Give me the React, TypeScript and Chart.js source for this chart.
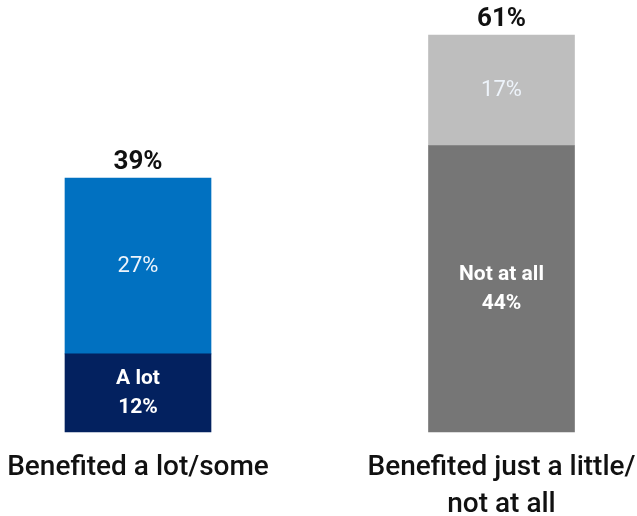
import React, { useEffect, useRef } from 'react';
import { Chart, registerables } from 'chart.js';

Chart.register(...registerables);

const categories: string[][] = [['Benefited a lot/some'], ['Benefited just a little/', 'not at all']];
const bottomNames = ['A lot', 'Not at all'];
const bottomValues = [12, 44];
const topValues = [27, 17];
const bottomColors = ['#03215f', '#767676'];
const topColors = ['#0171c1', '#bebebe'];

const FONT = 'Roboto';

const labelPlugin = {
  id: 'segmentLabels',
  afterDatasetsDraw(chart: any) {
    const ctx = chart.ctx;
    const m0 = chart.getDatasetMeta(0);
    const m1 = chart.getDatasetMeta(1);
    ctx.save();
    ctx.textAlign = 'center';
    ctx.textBaseline = 'middle';
    m0.data.forEach((bar: any, i: number) => {
      const { x, y, base } = bar.getProps(['x', 'y', 'base'], true);
      const cy = (y + base) / 2;
      ctx.fillStyle = '#ffffff';
      ctx.font = `bold 21px ${FONT}`;
      ctx.fillText(bottomNames[i], x, cy - 14);
      ctx.fillText(bottomValues[i] + '%', x, cy + 14.5);
    });
    m1.data.forEach((bar: any, i: number) => {
      const { x, y, base } = bar.getProps(['x', 'y', 'base'], true);
      const cy = (y + base) / 2;
      ctx.fillStyle = '#eef4fb';
      ctx.font = `400 22px ${FONT}`;
      ctx.fillText(topValues[i] + '%', x, cy);
      ctx.fillStyle = '#111111';
      ctx.font = `bold 26px ${FONT}`;
      ctx.fillText(bottomValues[i] + topValues[i] + '%', x, y - 16);
    });
    ctx.restore();
  },
};

export default function App() {
  const ref = useRef<HTMLCanvasElement | null>(null);
  useEffect(() => {
    if (!ref.current) return;
    const chart = new Chart(ref.current, {
      type: 'bar',
      data: {
        labels: categories as any,
        datasets: [
          { label: 'A lot / Not at all', data: bottomValues, backgroundColor: bottomColors, barThickness: 146, clip: false as any },
          { label: 'Some / Just a little', data: topValues, backgroundColor: topColors, barThickness: 146, clip: false as any },
        ],
      },
      options: {
        responsive: false,
        animation: false,
        layout: { padding: { left: 138, right: 135.5, top: 35, bottom: -24.3 } },
        plugins: { legend: { display: false }, tooltip: { enabled: false } },
        scales: {
          x: {
            stacked: true,
            offset: false,
            grid: { display: false, drawTicks: false, offset: false },
            border: { display: false },
            afterFit: (scale: any) => {
              scale.paddingLeft = 0;
              scale.paddingRight = 0;
            },
            ticks: {
              padding: 16.85,
              color: '#111111',
              maxRotation: 0,
              autoSkip: false,
              font: { family: FONT, size: 28, weight: '500', lineHeight: 1.332 },
            },
          },
          y: { stacked: true, display: false, min: 0, max: 61 },
        },
      },
      plugins: [labelPlugin],
    });
    return () => chart.destroy();
  }, []);
  return (
    <div style={{ position: 'fixed', left: 0, top: 0, width: 637, height: 516, background: '#fff' }}>
      <canvas ref={ref} width={637} height={516} style={{ display: 'block' }} />
    </div>
  );
}
